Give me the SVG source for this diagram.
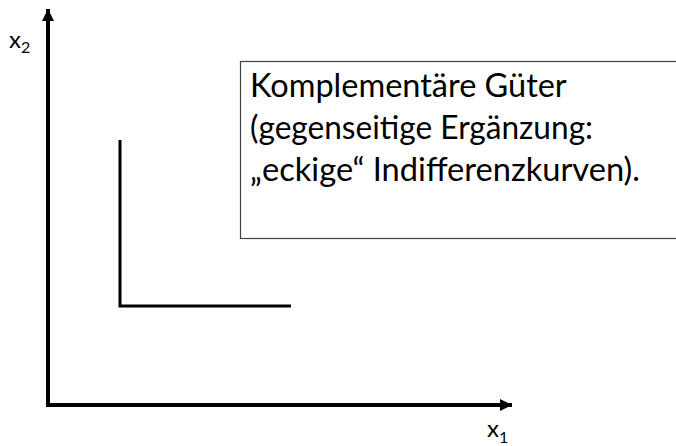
<svg xmlns="http://www.w3.org/2000/svg" width="676" height="446" viewBox="0 0 676 446">
<style>
.t{font-family:Lato,"Open Sans","Liberation Sans",sans-serif;fill:#000}
.ax{stroke:#000;stroke-width:4;fill:none}
.curve{stroke:#000;stroke-width:3;fill:none}
</style>
<defs>
<marker id="ah" viewBox="0 0 10 10" refX="10" refY="5" markerWidth="3" markerHeight="3" orient="auto" markerUnits="strokeWidth">
<path d="M0,0 L10,5 L0,10 z" fill="#000"/>
</marker>
</defs>
<rect width="676" height="446" fill="#fff"/>
<g id="connectors">
<line class="ax" x1="48" y1="406" x2="48" y2="9" marker-end="url(#ah)"/>
<line class="ax" x1="46" y1="405" x2="512" y2="405" marker-end="url(#ah)"/>
</g>
<g id="curve">
<polyline class="curve" points="120,140 120,306 291,306"/>
</g>
<g id="label-x2">
<text class="t" x="9" y="48" font-size="24">x<tspan font-size="16" dy="5">2</tspan></text>
</g>
<g id="label-x1">
<text class="t" x="487" y="437" font-size="24">x<tspan font-size="16" dy="6">1</tspan></text>
</g>
<g id="textbox">
<rect x="240.5" y="61.5" width="440" height="177" fill="#fff" stroke="#444" stroke-width="1.2"/>
<text class="t" font-size="33">
<tspan x="250" y="97" textLength="316" lengthAdjust="spacingAndGlyphs">Komplementäre Güter</tspan>
<tspan x="250" y="139" textLength="343" lengthAdjust="spacingAndGlyphs">(gegenseitige Ergänzung:</tspan>
<tspan x="250" y="181" textLength="390" lengthAdjust="spacingAndGlyphs">„eckige“ Indifferenzkurven).</tspan>
</text>
</g>
</svg>
